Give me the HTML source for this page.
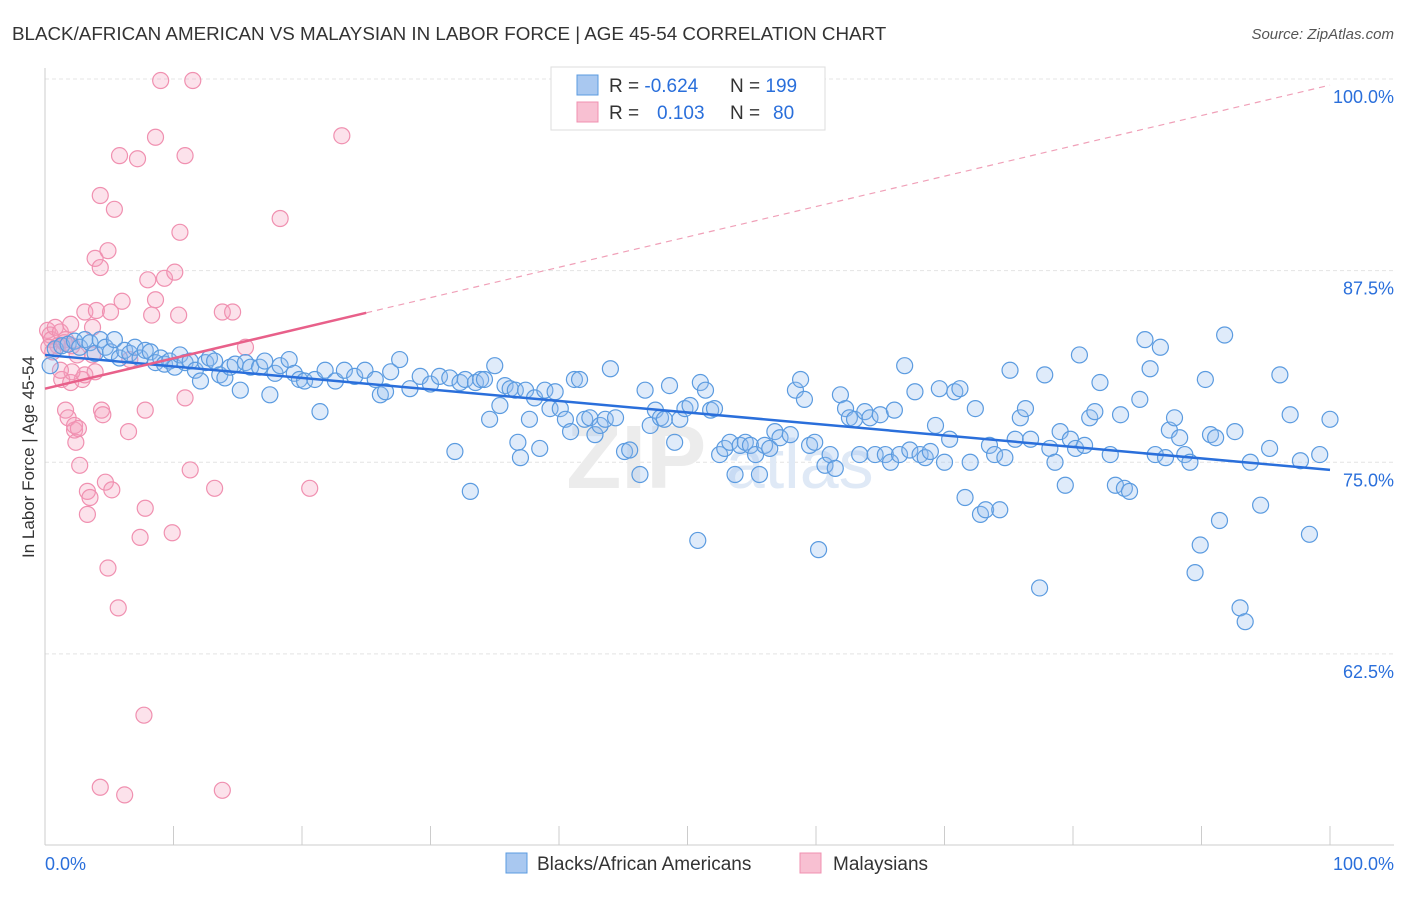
<!DOCTYPE html>
<html><head><meta charset="utf-8"><style>
html,body{margin:0;padding:0;background:#fff;}
body{width:1406px;height:892px;overflow:hidden;font-family:"Liberation Sans",sans-serif;}
</style></head><body>
<svg id="chart" width="1406" height="892" viewBox="0 0 1406 892" xmlns="http://www.w3.org/2000/svg" font-family="Liberation Sans, sans-serif">
<text x="12" y="40" font-size="18.8" fill="#333">BLACK/AFRICAN AMERICAN VS MALAYSIAN IN LABOR FORCE | AGE 45-54 CORRELATION CHART</text>
<text x="1394" y="39" font-size="15" fill="#555" text-anchor="end" font-style="italic">Source: ZipAtlas.com</text>
<g id="grid"></g>
<text x="720" y="488" font-size="90" fill="#ececec" text-anchor="middle" font-weight="bold">ZIP<tspan fill="#dfe9f6" font-size="70" font-weight="normal"> atlas</tspan></text>
<g id="axes"></g>
<g id="pinkPts"></g>
<g id="bluePts"></g>
<g id="trends"></g>
<text transform="translate(34,457) rotate(-90)" font-size="17" fill="#333" text-anchor="middle">In Labor Force | Age 45-54</text>
<text x="45" y="870" font-size="18" fill="#2a6fdb">0.0%</text>
<text x="1394" y="870" font-size="18" fill="#2a6fdb" text-anchor="end">100.0%</text>
<g>
<rect x="551" y="67" width="274" height="63" fill="#fff" stroke="#ddd"/>
<rect x="577" y="75" width="21" height="20" fill="#a9c8f0" stroke="#5b9be0"/>
<rect x="577" y="102" width="21" height="20" fill="#f8c0d2" stroke="#f090b0"/>
<text x="609" y="92" font-size="19" fill="#333">R = <tspan fill="#2a6fdb">-0.624</tspan><tspan x="730">N = </tspan><tspan fill="#2a6fdb">199</tspan></text>
<text x="609" y="119" font-size="19" fill="#333">R = <tspan x="657" fill="#2a6fdb">0.103</tspan><tspan x="730">N = </tspan><tspan x="773" fill="#2a6fdb">80</tspan></text>
</g>
<g>
<rect x="506" y="853" width="21" height="20" fill="#a9c8f0" stroke="#5b9be0"/>
<text x="537" y="870" font-size="19" fill="#333">Blacks/African Americans</text>
<rect x="800" y="853" width="21" height="20" fill="#f8c0d2" stroke="#f090b0"/>
<text x="833" y="870" font-size="19" fill="#333">Malaysians</text>
</g>
</svg>
<script>
const yTicks=[100,87.5,75,62.5];
const yTickLabels=["100.0%","87.5%","75.0%","62.5%"];
const xTicks=[0,10,20,30,40,50,60,70,80,90,100];
const blueX=[0.4,0.8,1.3,1.8,2.3,2.7,3.1,3.5,3.9,4.3,4.7,5.1,5.4,5.8,6.2,6.6,7.0,7.4,7.8,8.2,8.6,9.0,9.3,9.7,10.1,10.5,10.9,11.3,11.7,12.1,12.5,12.8,13.2,13.6,14.0,14.4,14.8,15.2,15.6,16.0,16.7,17.1,17.5,17.9,18.3,19.0,19.4,19.8,20.2,21.0,21.4,21.8,22.6,23.3,24.1,24.9,25.7,26.1,26.5,26.9,27.6,28.4,29.2,30.0,30.7,
31.5,31.9,32.3,32.7,33.1,33.5,33.9,34.2,34.6,35.0,35.4,35.8,36.2,36.6,36.8,37.0,37.4,37.7,38.1,38.5,38.9,39.3,39.7,40.1,40.5,40.9,41.2,41.6,42.0,42.4,42.8,43.2,43.6,44.0,44.4,45.1,45.5,46.3,46.7,47.1,47.5,47.9,48.2,48.6,49.0,49.4,49.8,50.2,50.8,51.0,51.4,51.8,52.1,52.5,52.9,53.3,53.7,54.1,54.5,54.9,55.3,55.6,56.0,56.4,56.8,57.2,58.0,58.4,58.8,59.1,59.5,59.9,60.2,60.7,61.1,61.5,61.9,62.3,62.6,63.0,63.4,63.8,64.2,64.6,65.0,65.4,65.8,66.1,
66.5,66.9,67.3,67.7,68.1,68.5,68.9,69.3,69.6,70.0,70.4,70.8,71.2,71.6,72.0,72.4,72.8,73.2,73.5,73.9,74.3,74.7,75.1,75.5,75.9,76.3,76.7,77.4,77.8,78.2,78.6,79.0,79.4,79.8,80.2,80.5,80.9,81.3,81.7,82.1,82.9,83.3,83.7,84.0,84.4,85.2,85.6,86.0,86.4,86.8,87.2,87.5,87.9,88.3,88.7,89.1,89.5,89.9,90.3,90.7,91.1,91.4,91.8,92.6,93.0,93.4,93.8,94.6,95.3,96.1,96.9,97.7,98.4,99.2,100];
const blueY=[81.3,82.4,82.6,82.7,82.9,82.5,83.0,82.8,82.1,83.0,82.5,82.2,83.0,81.8,82.3,82.1,82.5,81.8,82.3,82.2,81.5,81.8,81.4,81.6,81.2,82.0,81.5,81.6,81.0,80.3,81.5,81.8,81.6,80.7,80.5,81.2,81.4,79.7,81.5,81.2,81.2,81.6,79.4,80.8,81.3,81.7,80.8,80.4,80.3,80.4,78.3,81.0,80.3,81.0,80.6,81.0,80.4,79.4,79.6,80.9,81.7,79.8,80.6,80.1,80.6,
80.5,75.7,80.2,80.4,73.1,80.2,80.4,80.4,77.8,81.3,78.7,80.0,79.8,79.7,76.3,75.3,79.7,77.8,79.2,75.9,79.7,78.5,79.6,78.5,77.8,77.0,80.4,80.4,77.8,77.9,76.8,77.4,77.8,81.1,77.9,75.7,75.8,74.2,79.7,77.4,78.4,77.9,77.8,80.0,76.3,77.8,78.5,78.7,69.9,80.2,79.7,78.4,78.5,75.5,75.9,76.3,74.2,76.1,76.3,76.1,75.5,74.2,76.1,75.9,77.0,76.6,76.8,79.7,80.4,79.1,76.1,76.3,69.3,74.8,75.5,74.6,79.4,78.5,77.9,77.8,75.5,78.3,77.9,75.5,78.1,75.5,75.0,78.4,
75.5,81.3,75.8,79.6,75.5,75.3,75.7,77.4,79.8,75.0,76.5,79.6,79.8,72.7,75.0,78.5,71.6,71.9,76.1,75.5,71.9,75.3,81.0,76.5,77.9,78.5,76.5,66.8,80.7,75.9,75.0,77.0,73.5,76.5,75.9,82.0,76.1,77.9,78.3,80.2,75.5,73.5,78.1,73.3,73.1,79.1,83.0,81.1,75.5,82.5,75.3,77.1,77.9,76.6,75.5,75.0,67.8,69.6,80.4,76.8,76.6,71.2,83.3,77.0,65.5,64.6,75.0,72.2,75.9,80.7,78.1,75.1,70.3,75.5,77.8];
const pinkX=[0.2,0.4,0.5,0.8,1.0,1.2,1.3,1.6,1.6,1.8,2.0,2.0,2.1,2.3,2.3,2.4,2.6,2.7,2.9,3.1,3.1,3.3,3.3,3.5,3.7,3.9,3.9,4.0,4.3,4.3,4.4,4.5,4.7,4.9,5.1,5.2,5.4,4.9,5.7,5.8,6.0,6.5,6.6,7.2,7.4,7.8,7.8,8.0,8.3,8.6,8.6,9.0,9.3,9.9,10.1,10.4,10.5,10.9,10.9,11.3,11.5,13.2,13.8,14.6,15.6,18.3,20.6,23.1,7.7,4.3,6.2,13.8,2.1,1.2,3.7,0.3,0.6,1.5,2.5];
const pinkY=[83.6,83.3,83.0,83.8,82.6,83.5,80.4,83.0,78.4,77.9,84.0,80.2,82.6,77.1,77.4,76.3,77.2,74.8,80.4,80.7,84.8,73.1,71.6,72.7,83.8,80.9,88.3,84.9,87.7,92.4,78.4,78.1,73.7,88.8,84.8,73.2,91.5,68.1,65.5,95.0,85.5,77.0,81.7,94.8,70.1,78.4,72.0,86.9,84.6,96.2,85.6,99.9,87.0,70.4,87.4,84.6,90.0,95.0,79.2,74.5,99.9,73.3,84.8,84.8,82.5,90.9,73.3,96.3,58.5,53.8,53.3,53.6,80.9,81.0,82.0,82.5,82.2,82.8,82.0];
const blueTrend=[82.0,74.5];
const pinkTrend=[79.8,99.6];
const pinkSolidEnd=25;

const NS="http://www.w3.org/2000/svg";
const X0=45,X1=1330,Y100=79,PXPER=15.33;
function xs(v){return X0+(X1-X0)*v/100;}
function ys(v){return Y100+(100-v)*PXPER;}
function mk(tag,attrs,parent){const e=document.createElementNS(NS,tag);for(const k in attrs)e.setAttribute(k,attrs[k]);parent.appendChild(e);return e;}
const grid=document.getElementById('grid'),axes=document.getElementById('axes');
yTicks.forEach((t,i)=>{
  const l=mk('line',{x1:X0,x2:1394,y1:ys(t),y2:ys(t),stroke:'#e4e4e4','stroke-dasharray':'4,3'},grid);
  
  
  const tx=mk('text',{x:1394,y:ys(t)+24,'font-size':18,fill:'#2a6fdb','text-anchor':'end'},axes);
  tx.textContent=yTickLabels[i];
  
  
});
const xa=mk('line',{x1:X0,x2:1394,y1:845,y2:845,stroke:'#ccc'},axes);


const ya=mk('line',{x1:X0,x2:X0,y1:68,y2:845,stroke:'#ccc'},axes);


xTicks.forEach(t=>{
  const l=mk('line',{x1:xs(t),x2:xs(t),y1:826,y2:845,stroke:'#ccc'},axes);
  
  
});
const pg=document.getElementById('pinkPts');
pinkX.forEach((x,i)=>{
  const c=mk('circle',{cx:xs(x),cy:ys(pinkY[i]),r:8,fill:'rgba(245,160,190,0.3)',stroke:'#f090b0','stroke-width':1.2},pg);
  
  
});
const bg=document.getElementById('bluePts');
blueX.forEach((x,i)=>{
  const c=mk('circle',{cx:xs(x),cy:ys(blueY[i]),r:8,fill:'rgba(150,190,240,0.3)',stroke:'#5b9be0','stroke-width':1.2},bg);
  
  
});
const tg=document.getElementById('trends');
const bl=mk('line',{x1:xs(0),y1:ys(blueTrend[0]),x2:xs(100),y2:ys(blueTrend[1]),stroke:'#2a6fdb','stroke-width':2.5},tg);


const pm=pinkTrend[0]+(pinkTrend[1]-pinkTrend[0])*pinkSolidEnd/100;
const ps=mk('line',{x1:xs(0),y1:ys(pinkTrend[0]),x2:xs(pinkSolidEnd),y2:ys(pm),stroke:'#e8608a','stroke-width':2.5},tg);


const pd=mk('line',{x1:xs(pinkSolidEnd),y1:ys(pm),x2:xs(100),y2:ys(pinkTrend[1]),stroke:'#f0a0b8','stroke-width':1.2,'stroke-dasharray':'6,5'},tg);


</script>
</body></html>
